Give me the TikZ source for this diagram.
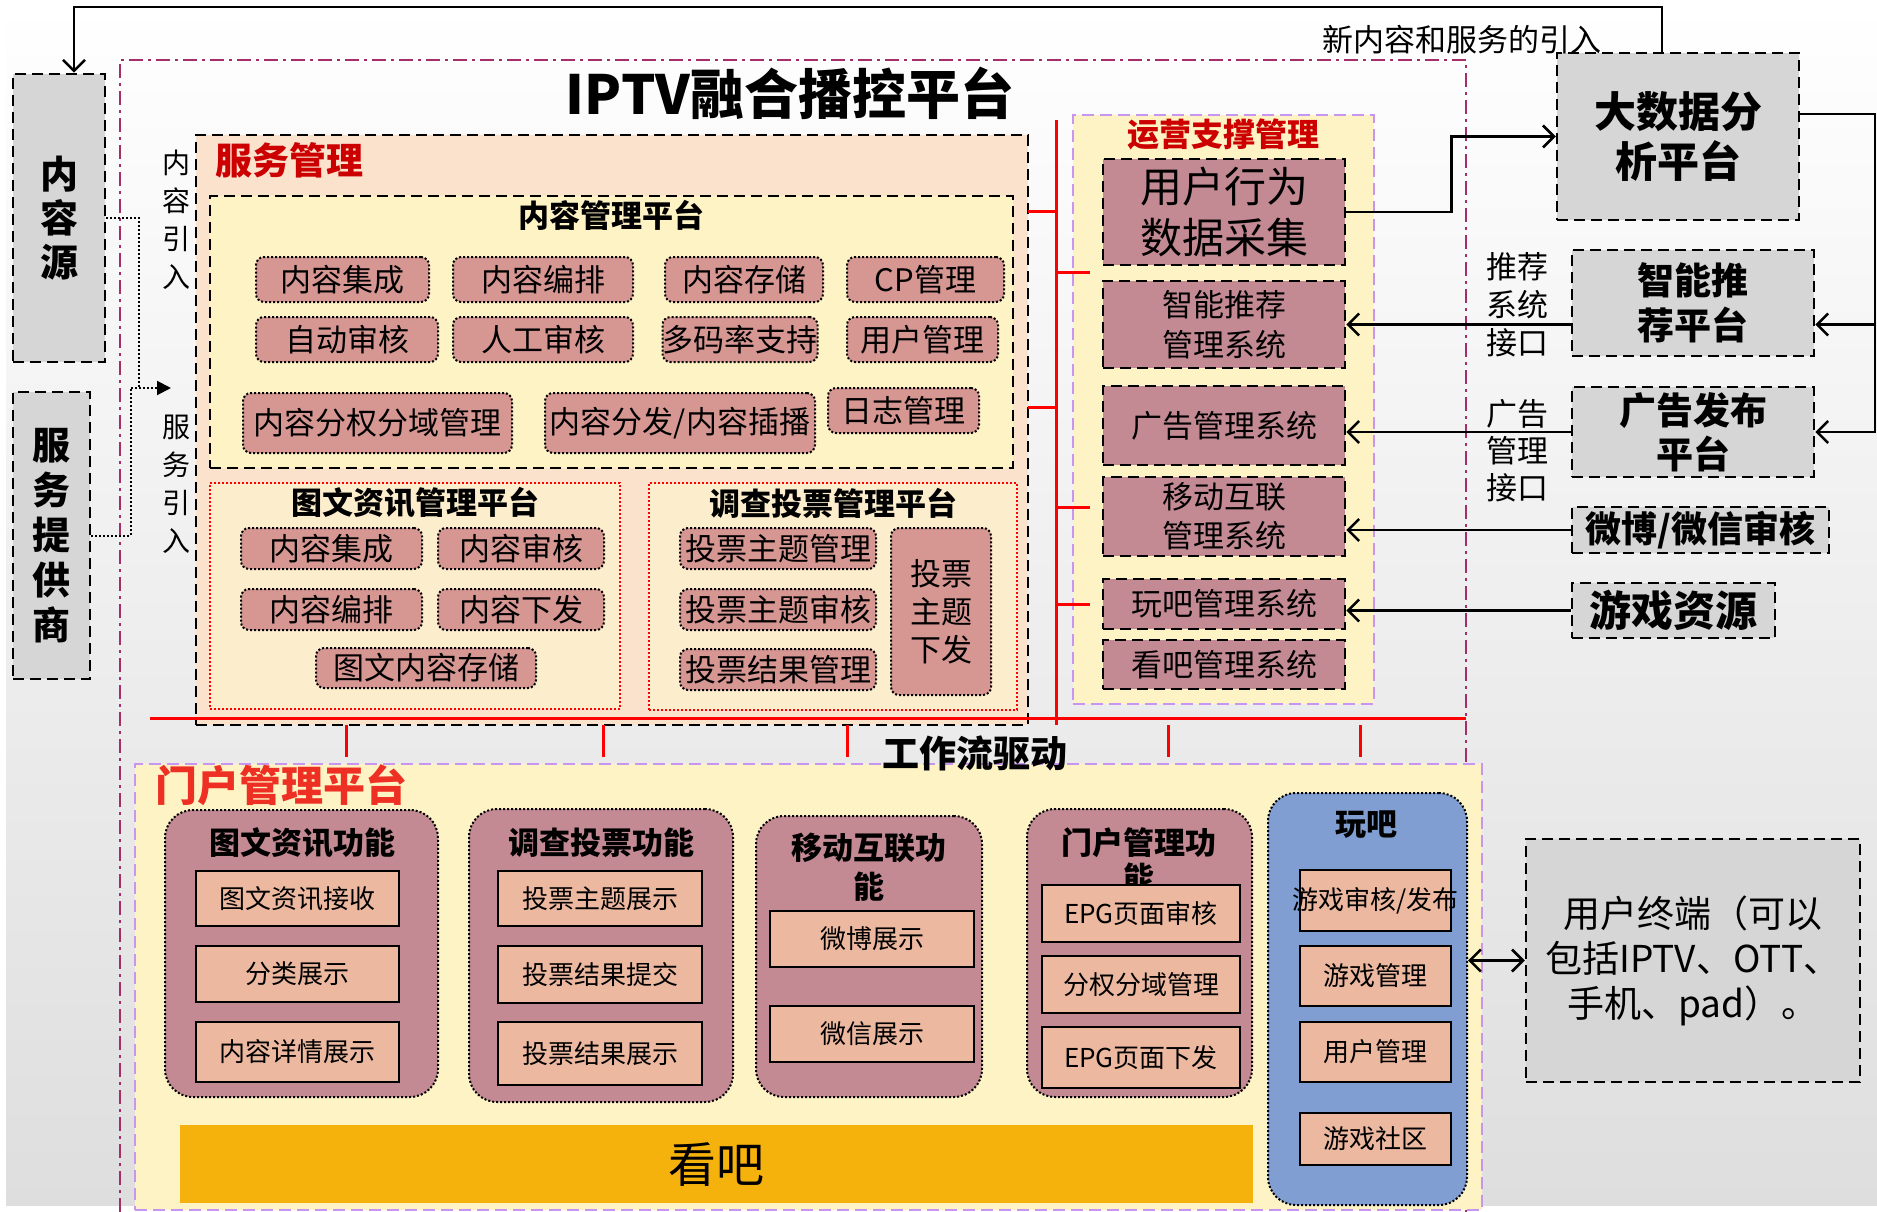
\documentclass[tikz,border=0pt]{standalone}
\usepackage{fontspec}
\setmainfont{Noto Sans CJK SC}
\usetikzlibrary{arrows.meta}

\definecolor{bgGray}{RGB}{222,222,222}
\definecolor{boxGray}{RGB}{214,214,214}
\definecolor{svcC}{RGB}{250,226,205}
\definecolor{paleC}{RGB}{253,243,196}
\definecolor{twC}{RGB}{252,238,205}
\definecolor{roseC}{RGB}{214,150,146}
\definecolor{mauveC}{RGB}{196,138,148}
\definecolor{peachC}{RGB}{236,184,160}
\definecolor{blueC}{RGB}{128,158,210}
\definecolor{kanbaC}{RGB}{245,177,12}
\definecolor{frameC}{RGB}{165,45,105}
\definecolor{lavC}{RGB}{200,150,240}
\definecolor{labelR}{RGB}{204,0,0}
\definecolor{portalR}{RGB}{238,48,36}

\newcommand\fsz[2]{\fontsize{#1}{#2}\selectfont}

\begin{document}
\begin{tikzpicture}[x=1pt, y=-1pt,
    % sizes are given in px of the target picture
    wh/.style 2 args={minimum width=#1pt, minimum height=#2pt},
    blackdash/.style={draw, line width=2.5pt, dash pattern=on 11pt off 6pt},
    lavdash/.style={draw=lavC, line width=2.5pt, dash pattern=on 12pt off 6pt},
    graybox/.style={blackdash, fill=boxGray, inner sep=0pt, align=center},
    item/.style={draw, rounded corners=8pt, dotted, line width=2pt, fill=roseC,
                 inner sep=0pt, align=center, font=\fsz{31}{38}},
    opsitem/.style={blackdash, fill=mauveC, inner sep=0pt, align=center, font=\fsz{31}{40}},
    group/.style={draw, rounded corners=28pt, dotted, line width=2pt, fill=mauveC},
    func/.style={draw, line width=2.5pt, fill=peachC, inner sep=0pt, font=\fsz{26}{30}},
    grptitle/.style={font=\bfseries\fsz{31}{38}, align=center},
    vtext/.style={font=\fsz{28}{38}, align=center},
    redline/.style={red, line width=3pt},
    arr/.style={line width=2.5pt, -{Straight Barb[length=11pt, width=22pt]}}
]

\useasboundingbox (0,0) rectangle (1877,1212);
\fill[top color=white, bottom color=bgGray] (6,0) rectangle (1877,1205);

% platform frame
\draw[frameC, line width=2.5pt, dash pattern=on 14pt off 5pt on 3pt off 5pt]
  (120,1212) -- (120,60) -- (1466,60) -- (1466,1212);
\node[font=\bfseries\fsz{54}{60}] (title) at (790,93) {IPTV融合播控平台};

% left sources
\node[graybox, wh={92}{288}, font=\bfseries\fsz{38}{44}] (src) at (59,218) {内\\容\\源};
\node[graybox, wh={77}{287}, font=\bfseries\fsz{38}{45}] (provider) at (51.5,535.5) {服\\务\\提\\供\\商};
\node[vtext] (inC) at (176,220) {内\\容\\引\\入};
\node[vtext] (inS) at (176,484) {服\\务\\引\\入};

% service management
\node[blackdash, fill=svcC, wh={832}{590}] (svc) at (612,430) {};
\node[font=\bfseries\fsz{37}{40}, text=labelR] (svcT) at (289.5,160) {服务管理};

\node[blackdash, fill=paleC, wh={803}{272}] (cms) at (611.5,332) {};
\node[grptitle] (cmsT) at (611,215) {内容管理平台};
\node[item, wh={173}{45}] (c1) at (342.5,279.5) {内容集成};
\node[item, wh={180}{45}] (c2) at (543,279.5) {内容编排};
\node[item, wh={158}{45}] (c3) at (744,279.5) {内容存储};
\node[item, wh={157}{45}] (c4) at (925.5,279.5) {CP管理};
\node[item, wh={182}{45}] (c5) at (347,339.5) {自动审核};
\node[item, wh={180}{45}] (c6) at (543,339.5) {人工审核};
\node[item, wh={152}{45}] (c7) at (740,339.5) {多码率支持};
\node[item, wh={151}{45}] (c8) at (922.5,339.5) {用户管理};
\node[item, wh={269}{60}] (c9) at (377.5,423) {内容分权分域管理};
\node[item, wh={270}{60}] (c10) at (680,423) {内容分发/内容插播};
\node[item, wh={151}{45}] (c11) at (903.5,410.5) {日志管理};

\node[draw=red, dotted, line width=2pt, fill=twC, wh={410}{226}] (tw) at (415,596) {};
\node[grptitle] (twT) at (415.5,503) {图文资讯管理平台};
\node[item, wh={181}{41}] (t1) at (331.5,548.5) {内容集成};
\node[item, wh={166}{41}] (t2) at (521,548.5) {内容审核};
\node[item, wh={181}{41}] (t3) at (331.5,609.5) {内容编排};
\node[item, wh={166}{41}] (t4) at (521,609.5) {内容下发};
\node[item, wh={220}{40}] (t5) at (426,668) {图文内容存储};

\node[draw=red, dotted, line width=2pt, fill=twC, wh={368}{227}] (vote) at (833,596.5) {};
\node[grptitle] (voteT) at (833,503) {调查投票管理平台};
\node[item, wh={196}{41}] (v1) at (778,548.5) {投票主题管理};
\node[item, wh={196}{41}] (v2) at (778,609.5) {投票主题审核};
\node[item, wh={196}{41}] (v3) at (778,669.5) {投票结果管理};
\node[item, wh={100}{167}] (v4) at (941,611.5) {投票\\主题\\下发};

% operation support
\node[lavdash, fill=paleC, wh={301}{589}] (ops) at (1223.5,409.5) {};
\node[font=\bfseries\fsz{32}{36}, text=labelR] (opsT) at (1223,134) {运营支撑管理};
\node[opsitem, wh={242}{106}, font=\fsz{42}{51}] (behav) at (1224,212) {用户行为\\数据采集};
\node[opsitem, wh={242}{87}] (recmgr) at (1224,324.5) {智能推荐\\管理系统};
\node[opsitem, wh={242}{79}] (admgr) at (1224,425.5) {广告管理系统};
\node[opsitem, wh={242}{79}, font=\fsz{31}{39}] (mobmgr) at (1224,516.5) {移动互联\\管理系统};
\node[opsitem, wh={242}{50}] (wanmgr) at (1224,604) {玩吧管理系统};
\node[opsitem, wh={242}{49}] (kanmgr) at (1224,664.5) {看吧管理系统};

% workflow bus
\draw[redline] (150,718) -- (1466,718);
\draw[redline] (1056,120) -- (1056,725);
\foreach \y in {211,407} \draw[redline] (1028,\y) -- (1056,\y);
\foreach \y in {272,507,604} \draw[redline] (1056,\y) -- (1090,\y);
\foreach \x in {346,603,847,1168,1360} \draw[redline] (\x,725) -- (\x,757);

% portal
\node[lavdash, fill=paleC, wh={1347}{446}] (portal) at (808.5,987) {};
\node[font=\bfseries\fsz{42}{46}, text=portalR] (portalT) at (281.5,785) {门户管理平台};
\node[font=\bfseries\fsz{37}{40}] (flow) at (975,753) {工作流驱动};

\node[group, wh={273}{287}] (g1) at (301.5,953.5) {};
\node[grptitle] (g1T) at (302,843) {图文资讯功能};
\node[func, wh={203}{55}] (f1) at (297.5,898.5) {图文资讯接收};
\node[func, wh={203}{56}] (f2) at (297.5,974) {分类展示};
\node[func, wh={203}{60}] (f3) at (297.5,1052) {内容详情展示};

\node[group, wh={264}{293}] (g2) at (601,955.5) {};
\node[grptitle] (g2T) at (601,843) {调查投票功能};
\node[func, wh={204}{55}] (f4) at (600,898.5) {投票主题展示};
\node[func, wh={204}{57}] (f5) at (600,974.5) {投票结果提交};
\node[func, wh={204}{63}] (f6) at (600,1053.5) {投票结果展示};

\node[group, wh={226}{281}] (g3) at (869,956.5) {};
\node[grptitle, font=\bfseries\fsz{31}{39}] (g3T) at (869,867) {移动互联功\\能};
\node[func, wh={204}{56}] (f7) at (872,939) {微博展示};
\node[func, wh={204}{56}] (f8) at (872,1034) {微信展示};

\node[group, wh={225}{288}] (g4) at (1139.5,953) {};
\node[grptitle, font=\bfseries\fsz{31}{35}] (g4T) at (1139,860) {门户管理功\\能};
\node[func, wh={198}{57}] (f9) at (1141,913.5) {EPG页面审核};
\node[func, wh={198}{57}] (f10) at (1141,984.5) {分权分域管理};
\node[func, wh={198}{61}] (f11) at (1141,1057.5) {EPG页面下发};

\node[group, fill=blueC, wh={199}{412}] (g5) at (1367.5,999) {};
\node[grptitle] (g5T) at (1366,825) {玩吧};
\node[func, wh={151}{61}, label={[font=\fsz{26}{30}]center:游戏审核/发布}] (f12) at (1375.5,900.5) {};
\node[func, wh={151}{60}] (f13) at (1375.5,976) {游戏管理};
\node[func, wh={151}{60}] (f14) at (1375.5,1052) {用户管理};
\node[func, wh={151}{52}] (f15) at (1375.5,1139) {游戏社区};

\node[fill=kanbaC, wh={1073}{78}, font=\fsz{48}{52}] (kanba) at (716.5,1164) {看吧};

% outside platforms
\node[graybox, wh={242}{167}, font=\bfseries\fsz{42}{50}] (bigdata) at (1678,136.5) {大数据分\\析平台};
\node[graybox, wh={242}{106}, font=\bfseries\fsz{37}{45}] (recplat) at (1693,303) {智能推\\荐平台};
\node[graybox, wh={242}{90}, font=\bfseries\fsz{37}{44}] (adplat) at (1693,432) {广告发布\\平台};
\node[graybox, wh={257}{46}, font=\bfseries\fsz{36}{40}] (weibo) at (1700.5,530) {微博/微信审核};
\node[graybox, wh={203}{55}, font=\bfseries\fsz{42}{46}] (game) at (1673.5,610.5) {游戏资源};
\node[graybox, wh={334}{243}, font=\fsz{37}{45}] (term) at (1693,960.5) {用户终端（可以\\包括IPTV、OTT、\\手机、pad）。};

\node[font=\fsz{31}{38}, align=center] (recL) at (1517,305) {推荐\\系统\\接口};
\node[font=\fsz{31}{37}, align=center] (adL) at (1517,451) {广告\\管理\\接口};

% connectors
\coordinate (topL) at (74,7);
\draw[arr] ([xshift=-16pt]bigdata.north) |- (topL) -- (src.north -| topL);
\node[font=\fsz{31}{34}] (newL) at (1462,40) {新内容和服务的引入};

\draw[arr] (behav.east) -- ++(105,0) |- (bigdata.west);
\coordinate (rail) at (1875,114);
\draw[arr] ([yshift=22.5pt]bigdata.east) -- (rail) |- (adplat.east);
\draw[arr] (rail |- recmgr.east) -- (recplat.east |- recmgr.east);
\draw[arr] (recplat.west |- recmgr.east) -- (recmgr.east);
\draw[arr] (adplat.west) -- (adplat.west -| admgr.east);
\draw[arr] (weibo.west) -- (weibo.west -| mobmgr.east);
\draw[arr] (game.west) -- (game.west -| wanmgr.east);
\draw[line width=2.5pt, {Straight Barb[length=11pt, width=22pt]}-{Straight Barb[length=11pt, width=22pt]}]
  (term.west -| g5.east) -- (term.west);

\coordinate (jA) at (139,388);
\coordinate (jB) at (131,388);
\coordinate (inA) at (171,388);
\draw[dotted, line width=2pt] (src.east) -| (jA);
\draw[dotted, line width=2pt] (provider.east) -| (jB);
\draw[dotted, line width=2pt, -{Triangle[length=14pt, width=14pt]}] (jB) -- (inA);

\end{tikzpicture}
\end{document}
